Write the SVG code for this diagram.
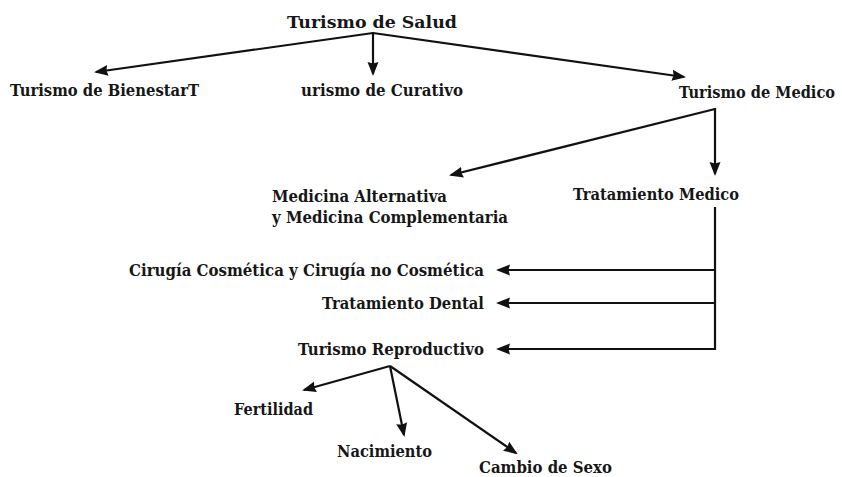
<svg xmlns="http://www.w3.org/2000/svg" width="842" height="477" viewBox="0 0 842 477">
  <defs>
    <marker id="arrow" markerUnits="userSpaceOnUse" markerWidth="14" markerHeight="12" viewBox="0 0 14 12" refX="12" refY="6" orient="auto">
      <path d="M0,0.5 L14,6 L0,11.5 L1.5,6 z" fill="#111111"/>
    </marker>
  </defs>
  <style>
    text { font-family: "DejaVu Serif", "Liberation Serif", serif; font-weight: bold; font-size: 17.5px; fill: #161616; }
    .c line { stroke: #111111; stroke-width: 2.2; fill: none; }
    .a { marker-end: url(#arrow); }
  </style>
  <rect width="842" height="477" fill="#ffffff"/>

  <g class="c" id="connectors">
    <line class="a" x1="373" y1="33" x2="96" y2="72"/>
    <line class="a" x1="373" y1="32" x2="373" y2="74"/>
    <line class="a" x1="373" y1="33" x2="684" y2="77"/>
    <line class="a" x1="715" y1="109" x2="451" y2="175"/>
    <line class="a" x1="715" y1="108" x2="715" y2="174"/>
    <line x1="715" y1="207" x2="715" y2="350"/>
    <line class="a" x1="716" y1="270" x2="498" y2="270"/>
    <line class="a" x1="716" y1="303" x2="498" y2="303"/>
    <line class="a" x1="716" y1="349" x2="498" y2="349"/>
    <line class="a" x1="390" y1="366" x2="304" y2="390"/>
    <line class="a" x1="390" y1="366" x2="404" y2="435"/>
    <line class="a" x1="390" y1="366" x2="516" y2="453"/>
  </g>

  <g id="turismo-salud"><text x="287" y="28" textLength="170" lengthAdjust="spacingAndGlyphs">Turismo de Salud</text></g>
  <g id="turismo-bienestar"><text x="10" y="96" textLength="189" lengthAdjust="spacingAndGlyphs">Turismo de BienestarT</text></g>
  <g id="turismo-curativo"><text x="301" y="96" textLength="162" lengthAdjust="spacingAndGlyphs">urismo de Curativo</text></g>
  <g id="turismo-medico"><text x="679" y="98" textLength="156" lengthAdjust="spacingAndGlyphs">Turismo de Medico</text></g>
  <g id="medicina-alternativa">
    <text x="272" y="202" textLength="175" lengthAdjust="spacingAndGlyphs">Medicina Alternativa</text>
    <text x="272" y="223" textLength="236" lengthAdjust="spacingAndGlyphs">y Medicina Complementaria</text>
  </g>
  <g id="tratamiento-medico"><text x="573" y="200" textLength="166" lengthAdjust="spacingAndGlyphs">Tratamiento Medico</text></g>
  <g id="cirugia"><text x="129" y="276" textLength="355" lengthAdjust="spacingAndGlyphs">Cirugía Cosmética y Cirugía no Cosmética</text></g>
  <g id="tratamiento-dental"><text x="322" y="309" textLength="162" lengthAdjust="spacingAndGlyphs">Tratamiento Dental</text></g>
  <g id="turismo-reproductivo"><text x="298" y="355" textLength="186" lengthAdjust="spacingAndGlyphs">Turismo Reproductivo</text></g>
  <g id="fertilidad"><text x="234" y="415" textLength="79" lengthAdjust="spacingAndGlyphs">Fertilidad</text></g>
  <g id="nacimiento"><text x="337" y="457" textLength="95" lengthAdjust="spacingAndGlyphs">Nacimiento</text></g>
  <g id="cambio-sexo"><text x="479" y="473" textLength="133" lengthAdjust="spacingAndGlyphs">Cambio de Sexo</text></g>
</svg>
